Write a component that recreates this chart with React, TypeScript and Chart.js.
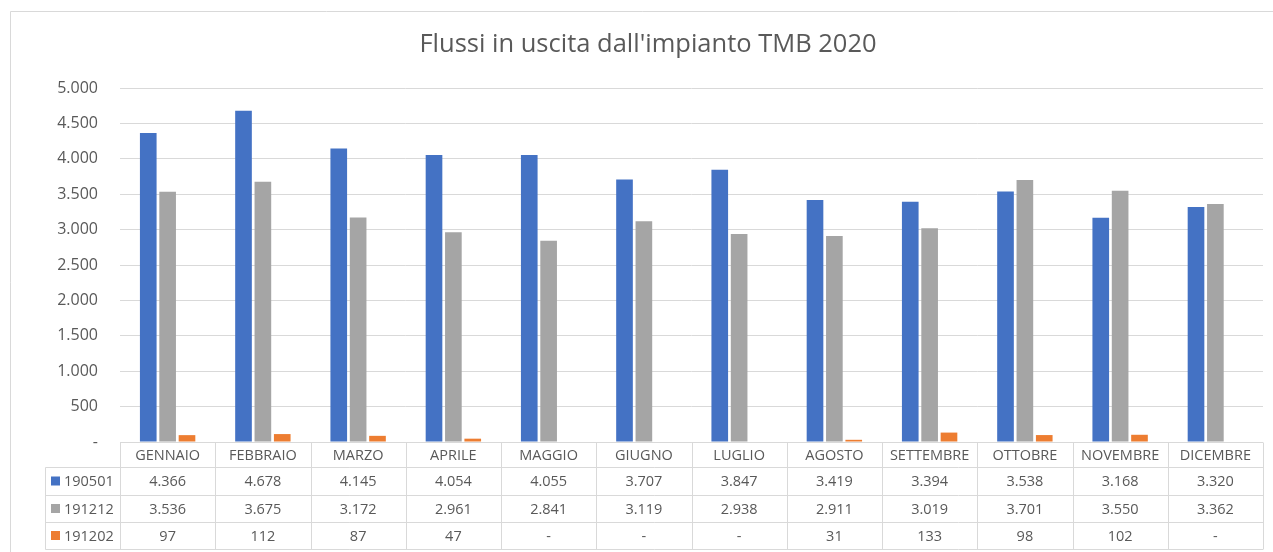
import React, { useEffect, useRef } from "react";
import { Chart, registerables } from "chart.js";

Chart.register(...registerables);

const chartTitle = "Flussi in uscita dall'impianto TMB 2020";
const months = ["GENNAIO", "FEBBRAIO", "MARZO", "APRILE", "MAGGIO", "GIUGNO", "LUGLIO", "AGOSTO", "SETTEMBRE", "OTTOBRE", "NOVEMBRE", "DICEMBRE"];
const series190501 = [4366, 4678, 4145, 4054, 4055, 3707, 3847, 3419, 3394, 3538, 3168, 3320];
const series191212 = [3536, 3675, 3172, 2961, 2841, 3119, 2938, 2911, 3019, 3701, 3550, 3362];
const series191202: (number | null)[] = [97, 112, 87, 47, null, null, null, 31, 133, 98, 102, null];
const seriesNames = ["190501", "191212", "191202"];
const seriesColors = ["#4472C4", "#A5A5A5", "#ED7D31"];
const yMin = 0;
const yMax = 5000;
const yStep = 500;

const FONT = "'Open Sans', 'Noto Sans', sans-serif";
const TEXT = "#595959";
const LINE = "#D9D9D9";

function fmt(v: number | null | undefined): string {
  if (v == null || v === 0) return "-";
  return String(Math.round(v)).replace(/\B(?=(\d{3})+(?!\d))/g, ".");
}

const decorPlugin = {
  id: "decor",
  beforeDraw(chart: any) {
    const ctx = chart.ctx;
    ctx.save();
    ctx.fillStyle = "#fff";
    ctx.fillRect(0, 0, chart.width, chart.height);
    ctx.strokeStyle = LINE;
    ctx.lineWidth = 1;
    ctx.beginPath();
    ctx.moveTo(10.5, chart.height + 2);
    ctx.lineTo(10.5, 11.5);
    ctx.lineTo(chart.width + 2, 11.5);
    ctx.stroke();
    ctx.fillStyle = TEXT;
    ctx.font = `25.5px ${FONT}`;
    ctx.textAlign = "center";
    ctx.textBaseline = "middle";
    ctx.fillText(chartTitle, 648, 45);
    ctx.restore();
  },
  afterDraw(chart: any) {
    const ctx = chart.ctx;
    const area = chart.chartArea;
    const n = months.length;
    const w = (area.right - area.left) / n;
    const rows = [442.5, 467.5, 495.5, 522.5, 549.5];
    const keyLeft = 45.5;
    ctx.save();
    ctx.strokeStyle = LINE;
    ctx.lineWidth = 1;
    ctx.beginPath();
    ctx.moveTo(area.left, rows[0]);
    ctx.lineTo(area.right, rows[0]);
    for (let r = 1; r < rows.length; r++) {
      ctx.moveTo(keyLeft, rows[r]);
      ctx.lineTo(area.right, rows[r]);
    }
    ctx.moveTo(keyLeft, rows[1]);
    ctx.lineTo(keyLeft, rows[4]);
    for (let i = 0; i <= n; i++) {
      const x = Math.round(area.left + i * w) + 0.5;
      ctx.moveTo(x, rows[0]);
      ctx.lineTo(x, rows[4]);
    }
    ctx.stroke();

    ctx.fillStyle = TEXT;
    ctx.font = `14.5px ${FONT}`;
    ctx.textAlign = "center";
    ctx.textBaseline = "middle";
    const data = [series190501, series191212, series191202];
    for (let i = 0; i < n; i++) {
      const cx = area.left + (i + 0.5) * w;
      ctx.fillText(months[i], cx, (rows[0] + rows[1]) / 2 + 0.5);
      for (let s = 0; s < data.length; s++) {
        ctx.fillText(fmt(data[s][i]), cx, (rows[s + 1] + rows[s + 2]) / 2 + 0.5);
      }
    }
    ctx.textAlign = "left";
    for (let s = 0; s < seriesNames.length; s++) {
      const cy = (rows[s + 1] + rows[s + 2]) / 2;
      ctx.fillStyle = seriesColors[s];
      ctx.fillRect(51, cy - 5, 9, 9);
      ctx.fillStyle = TEXT;
      ctx.fillText(seriesNames[s], 64, cy + 0.5);
    }
    ctx.restore();
  },
};

export default function App() {
  const ref = useRef<HTMLCanvasElement | null>(null);
  useEffect(() => {
    document.body.style.margin = "0";
    const canvas = ref.current;
    if (!canvas) return;
    const chart = new Chart(canvas, {
      type: "bar",
      data: {
        labels: months,
        datasets: [
          { label: seriesNames[0], data: series190501, backgroundColor: seriesColors[0] },
          { label: seriesNames[1], data: series191212, backgroundColor: seriesColors[1] },
          { label: seriesNames[2], data: series191202 as any, backgroundColor: seriesColors[2] },
        ],
      },
      options: {
        responsive: false,
        animation: false,
        devicePixelRatio: 1,
        layout: { padding: { top: 88, bottom: 110, left: 0, right: 10 } },
        datasets: { bar: { categoryPercentage: 0.61, barPercentage: 0.86 } },
        plugins: { legend: { display: false }, title: { display: false }, tooltip: { enabled: false } },
        scales: {
          x: { display: false },
          y: {
            min: yMin,
            max: yMax,
            border: { display: false },
            grid: { color: LINE, lineWidth: 1, drawTicks: false },
            afterFit(scale: any) {
              scale.width = 120;
            },
            ticks: {
              stepSize: yStep,
              padding: 22,
              color: TEXT,
              font: { family: FONT, size: 16 },
              callback: (v: any) => fmt(Number(v)),
            },
          },
        },
      },
      plugins: [decorPlugin],
    });
    return () => chart.destroy();
  }, []);
  return <canvas ref={ref} width={1273} height={552} style={{ display: "block" }} />;
}
